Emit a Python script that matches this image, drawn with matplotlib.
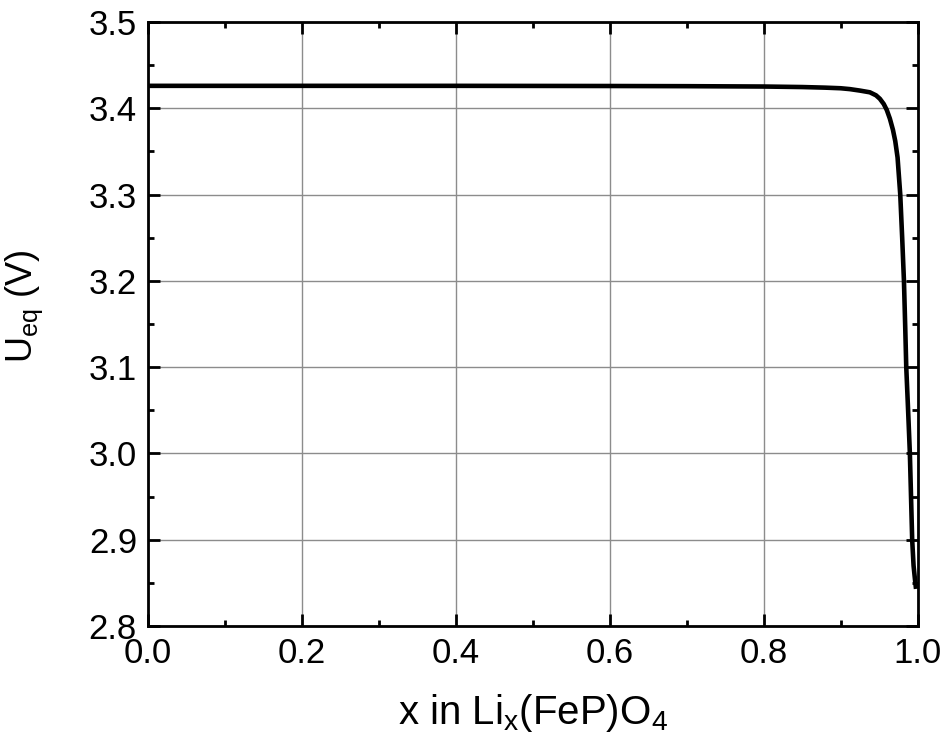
import matplotlib
matplotlib.use("Agg")
import matplotlib.pyplot as plt
from matplotlib.ticker import MultipleLocator

plt.rcParams['font.family'] = ['Liberation Sans', 'DejaVu Sans']
plt.rcParams['mathtext.fontset'] = 'custom'
plt.rcParams['mathtext.rm'] = 'Liberation Sans'
plt.rcParams['mathtext.it'] = 'Liberation Sans:italic'

x_vals = [0.0, 0.1, 0.2, 0.3, 0.4, 0.5, 0.6, 0.7, 0.8, 0.85, 0.88, 0.90,
          0.912, 0.925, 0.938, 0.946, 0.951, 0.956, 0.960, 0.964, 0.968,
          0.971, 0.974, 0.9775, 0.980, 0.9823, 0.984, 0.9853, 0.9877,
          0.990, 0.9915, 0.993, 0.9948, 0.9965, 0.998]
u_vals = [3.4260, 3.4260, 3.4260, 3.4260, 3.4260, 3.4259, 3.4258, 3.4256,
          3.4252, 3.4246, 3.4239, 3.4232, 3.4222, 3.4205, 3.4185, 3.4150,
          3.4110, 3.4050, 3.3980, 3.3880, 3.3750, 3.3620, 3.3430, 3.3000,
          3.2500, 3.2000, 3.1450, 3.1000, 3.0500, 3.0000, 2.9500, 2.9000,
          2.8700, 2.8550, 2.8430]

x_ticks = [0.0, 0.2, 0.4, 0.6, 0.8, 1.0]
y_ticks = [2.8, 2.9, 3.0, 3.1, 3.2, 3.3, 3.4, 3.5]

fig = plt.figure(figsize=(9.44, 7.45), dpi=100)
ax = fig.add_axes([0.1568, 0.1597, 0.972 - 0.1568, 0.9705 - 0.1597])

ax.plot(x_vals, u_vals, color='black', lw=3.3, solid_capstyle='butt',
        solid_joinstyle='round', zorder=3)

ax.set_xlim(0.0, 1.0)
ax.set_ylim(2.8, 3.5)
ax.set_xticks(x_ticks)
ax.set_yticks(y_ticks)
ax.xaxis.set_minor_locator(MultipleLocator(0.1))
ax.yaxis.set_minor_locator(MultipleLocator(0.05))
ax.set_xticklabels([f"{v:.1f}" for v in x_ticks])
ax.set_yticklabels([f"{v:.1f}" for v in y_ticks])

ax.grid(True, which='major', color='#8c8c8c', lw=1.0, zorder=0)
for s in ax.spines.values():
    s.set_linewidth(2.0)

ax.tick_params(which='both', direction='in', top=True, right=True,
               labelsize=25, width=2.0)
ax.tick_params(which='major', length=8.5, pad=8)
ax.tick_params(which='minor', length=4.5)

ax.set_xlabel(r'x in Li$_\mathrm{x}$(FeP)O$_\mathrm{4}$', fontsize=29, labelpad=16)
ax.set_ylabel(r'U$_\mathrm{eq}$ (V)', fontsize=26)
ax.yaxis.set_label_coords(-0.134, 0.53)

fig.savefig('out.png', dpi=100)
